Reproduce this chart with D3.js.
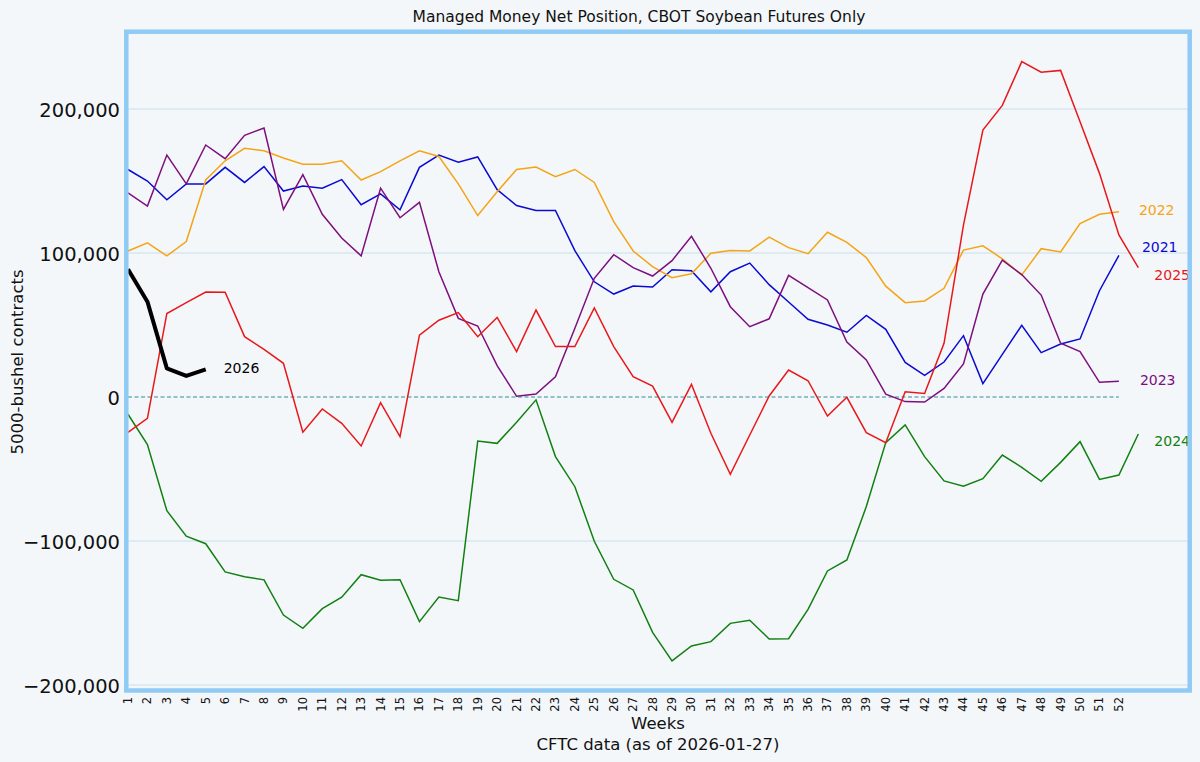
<!DOCTYPE html>
<html>
<head>
<meta charset="utf-8">
<script src="https://cdn.jsdelivr.net/npm/d3@7"></script>
<style>
  html, body { margin: 0; padding: 0; background: #f4f7fa; }
  svg { display: block; font-family: "DejaVu Sans", sans-serif; }
</style>
</head>
<body>
<svg id="chart" width="1200" height="762"></svg>
<script>
// ---------------- DATA ----------------
const weekTicks = [1,2,3,4,5,6,7,8,9,10,11,12,13,14,15,16,17,18,19,20,21,22,23,24,25,26,
  27,28,29,30,31,32,33,34,35,36,37,38,39,40,41,42,43,44,45,46,47,48,49,50,51,52];
const yTicks = [-200000, -100000, 0, 100000, 200000];

const y2021 = [158000,150000,137000,148000,148000,159500,149000,160000,143000,146500,
  145000,151000,133500,141000,130000,159500,168000,163000,166700,144000,
  133000,129600,129600,101600,80000,71500,77000,76400,88400,87700,
  73000,87000,93000,78000,66000,54000,50000,45000,56700,47000,
  24000,15000,24300,42600,9300,29600,49800,30800,36800,40300,
  73800,98400];
const y2022 = [101400,107000,98000,108000,150700,164000,172700,171000,166000,161600,
  161600,164000,150700,156500,164000,171000,167000,148000,126000,142600,
  158000,159700,153000,158000,149000,121800,101400,90500,82900,85600,
  99800,101800,101400,111000,103700,99500,114400,107400,96800,77000,
  65500,66700,75500,102000,105000,96000,84700,103000,100700,120400,
  126900,128700];
const y2023 = [141700,132600,168000,148000,175000,165500,181700,186800,130300,154400,
  126900,110400,98000,145000,124500,135200,87000,54600,49300,21800,
  500,2000,14000,47700,82400,98800,89800,84000,94700,111600,
  89400,62700,48800,54300,84500,76000,67400,38200,25700,2000,
  -3200,-3500,6000,23000,71500,95000,85000,70800,37300,31500,
  10200,11000];
const y2024 = [-12000,-33000,-79000,-96700,-101900,-121500,-124800,-127000,-151400,-160600,
  -147000,-139000,-123400,-127300,-126900,-156000,-138900,-141400,-30600,-32200,
  -17600,-2000,-41400,-62300,-100200,-126600,-134000,-163400,-183300,-172900,
  -169900,-157200,-155000,-168000,-167800,-147500,-120800,-113200,-76100,-31700,
  -19400,-41400,-58300,-62000,-56700,-40300,-48800,-58600,-45400,-31000,
  -57200,-54200,-25700];
const y2025 = [-24500,-14800,58000,65500,72900,72700,41900,33100,23400,-24500,
  -8300,-18300,-34000,-3900,-27500,43000,53300,58600,41900,55300,
  31500,60400,35000,35000,61800,35000,14100,7600,-17600,8800,
  -25200,-53700,-26400,700,18700,11300,-13200,-200,-24800,-31700,
  3600,2500,37300,119400,185400,202500,232900,225500,226800,191200,
  155300,112500,89800];
const y2026 = [88700,66200,19900,14600,19200];

const seriesNames = ["2021","2022","2023","2024","2025","2026"];
const seriesValues = [y2021, y2022, y2023, y2024, y2025, y2026];

// ---------------- STYLE ----------------
const colors = {"2021":"#0a0ad2","2022":"#f5a414","2023":"#7d0f7d","2024":"#118011","2025":"#e8181a","2026":"#000000"};
const widths = {"2021":1.5,"2022":1.5,"2023":1.5,"2024":1.5,"2025":1.5,"2026":4};
const labelOffset = {"2021":[23,-8],"2022":[20,-1.5],"2023":[21,-1],"2024":[16,7],"2025":[16,7],"2026":[18,-1]};

const svg = d3.select("#chart");
const frame = {x0: 126.3, y0: 31.7, x1: 1189.7, y1: 690.5};

const x = d3.scaleLinear().domain([1, 52]).range([128, 1118.9]);
const y = d3.scaleLinear().domain([-200000, 200000]).range([685, 109]);

// background
svg.append("rect").attr("width",1200).attr("height",762).attr("fill","#f4f7fa");

// gridlines
svg.append("g").selectAll("line").data(yTicks.filter(d => d !== 0)).join("line")
  .attr("x1", frame.x0 + 2).attr("x2", frame.x1 - 2)
  .attr("y1", d => y(d)).attr("y2", d => y(d))
  .attr("stroke", "#c6deec").attr("stroke-width", 1);

// zero dashed line
svg.append("line")
  .attr("x1", x(1)).attr("x2", x(52)).attr("y1", y(0)).attr("y2", y(0))
  .attr("stroke", "#2e8b9a").attr("stroke-width", 1).attr("stroke-dasharray", "4,2.5");

// y tick labels
const fmt = d3.format(",");
svg.append("g").selectAll("text").data(yTicks).join("text")
  .attr("x", 120).attr("y", d => y(d) + 1.5)
  .attr("text-anchor", "end").attr("dominant-baseline", "central")
  .attr("font-size", 19.5).attr("fill", "#111")
  .text(d => fmt(d));

// x tick labels (rotated)
svg.append("g").selectAll("text").data(weekTicks).join("text")
  .attr("transform", d => `translate(${x(d) + 4},${697}) rotate(-90)`)
  .attr("text-anchor", "end")
  .attr("font-size", 11.5).attr("fill", "#111")
  .text(d => d);

// lines
const line = d3.line().x((d, i) => x(i + 1)).y(d => y(d));
seriesNames.forEach((name, k) => {
  svg.append("path").datum(seriesValues[k])
    .attr("d", line)
    .attr("fill", "none")
    .attr("stroke", colors[name])
    .attr("stroke-width", widths[name])
    .attr("stroke-linejoin", name === "2026" ? "round" : "miter");
});

// end labels
seriesNames.forEach((name, k) => {
  const vals = seriesValues[k];
  const n = vals.length;
  const off = labelOffset[name];
  svg.append("text")
    .attr("x", x(n) + off[0]).attr("y", y(vals[n - 1]) + off[1])
    .attr("dominant-baseline", "central")
    .attr("font-size", 14).attr("fill", colors[name])
    .text(name);
});

// frame
svg.append("rect")
  .attr("x", frame.x0).attr("y", frame.y0)
  .attr("width", frame.x1 - frame.x0).attr("height", frame.y1 - frame.y0)
  .attr("fill", "none").attr("stroke", "#8fcbf4").attr("stroke-width", 4.5);

// titles
svg.append("text").attr("x", 639).attr("y", 17).attr("text-anchor", "middle")
  .attr("dominant-baseline", "central").attr("font-size", 15.5).attr("fill", "#111")
  .text("Managed Money Net Position, CBOT Soybean Futures Only");

svg.append("text").attr("transform", "translate(17,362) rotate(-90)")
  .attr("text-anchor", "middle").attr("dominant-baseline", "central")
  .attr("font-size", 16.5).attr("fill", "#111")
  .text("5000-bushel contracts");

svg.append("text").attr("x", 658).attr("y", 723).attr("text-anchor", "middle")
  .attr("dominant-baseline", "central").attr("font-size", 16.5).attr("fill", "#111")
  .text("Weeks");
svg.append("text").attr("x", 658).attr("y", 744).attr("text-anchor", "middle")
  .attr("dominant-baseline", "central").attr("font-size", 16.5).attr("fill", "#111")
  .text("CFTC data (as of 2026-01-27)");
</script>
</body>
</html>
